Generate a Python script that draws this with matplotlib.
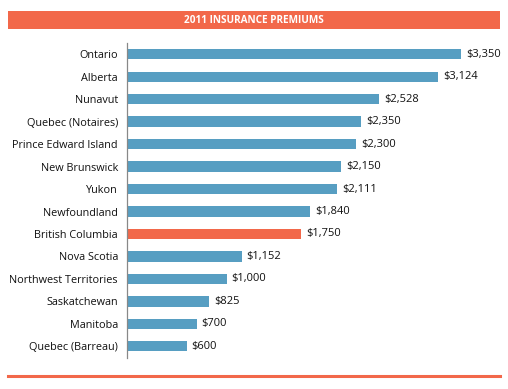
import matplotlib
matplotlib.use("Agg")
import matplotlib.pyplot as plt
from matplotlib.patches import Rectangle
from matplotlib.lines import Line2D

title = "2011 INSURANCE PREMIUMS"
provinces = ["Ontario", "Alberta", "Nunavut", "Quebec (Notaires)", "Prince Edward Island",
             "New Brunswick", "Yukon", "Newfoundland", "British Columbia", "Nova Scotia",
             "Northwest Territories", "Saskatchewan", "Manitoba", "Quebec (Barreau)"]
premiums = [3350, 3124, 2528, 2350, 2300, 2150, 2111, 1840, 1750, 1152, 1000, 825, 700, 600]
highlight = "British Columbia"

BLUE = "#579ec2"
ORANGE = "#f2684a"
W, H = 508, 389

plt.rcParams['font.family'] = ['Open Sans', 'DejaVu Sans']
fig = plt.figure(figsize=(W/100, H/100), dpi=100)

# Title banner
fig.patches.append(Rectangle((8/W, 1-29/H), 492/W, 18/H, transform=fig.transFigure,
                             facecolor=ORANGE, edgecolor='none'))
fig.text(254/W, 1-20.5/H, title, color='white', fontsize=7.2, fontweight='bold',
         ha='center', va='center')
# bottom rule
fig.lines.append(Line2D([8/W, 500/W], [1-376/H, 1-376/H], transform=fig.transFigure,
                        color=ORANGE, linewidth=2.2))

ax = fig.add_axes([127/W, 1-358/H, (500-127)/W, (358-43)/H])
ypos = list(range(len(provinces)))
colors = [ORANGE if p == highlight else BLUE for p in provinces]
ax.barh(ypos, premiums, height=0.46, color=colors)
ax.set_ylim(13.52, -0.5)
ax.set_xlim(0, (500-127)/0.0997)
ax.set_yticks(ypos)
ax.set_yticklabels(provinces, fontsize=7.8, color='#111111')
ax.tick_params(axis='y', length=0, pad=6.5)
ax.set_xticks([])
for s in ['top', 'right', 'bottom']:
    ax.spines[s].set_visible(False)
ax.spines['left'].set_color('#888888')
ax.spines['left'].set_linewidth(0.9)
for y, v in zip(ypos, premiums):
    ax.annotate(f"${v:,}", (v, y), xytext=(3.5, 0), textcoords='offset points',
                va='center', ha='left', fontsize=8, color='#111111')

fig.savefig("out.png", dpi=100)
